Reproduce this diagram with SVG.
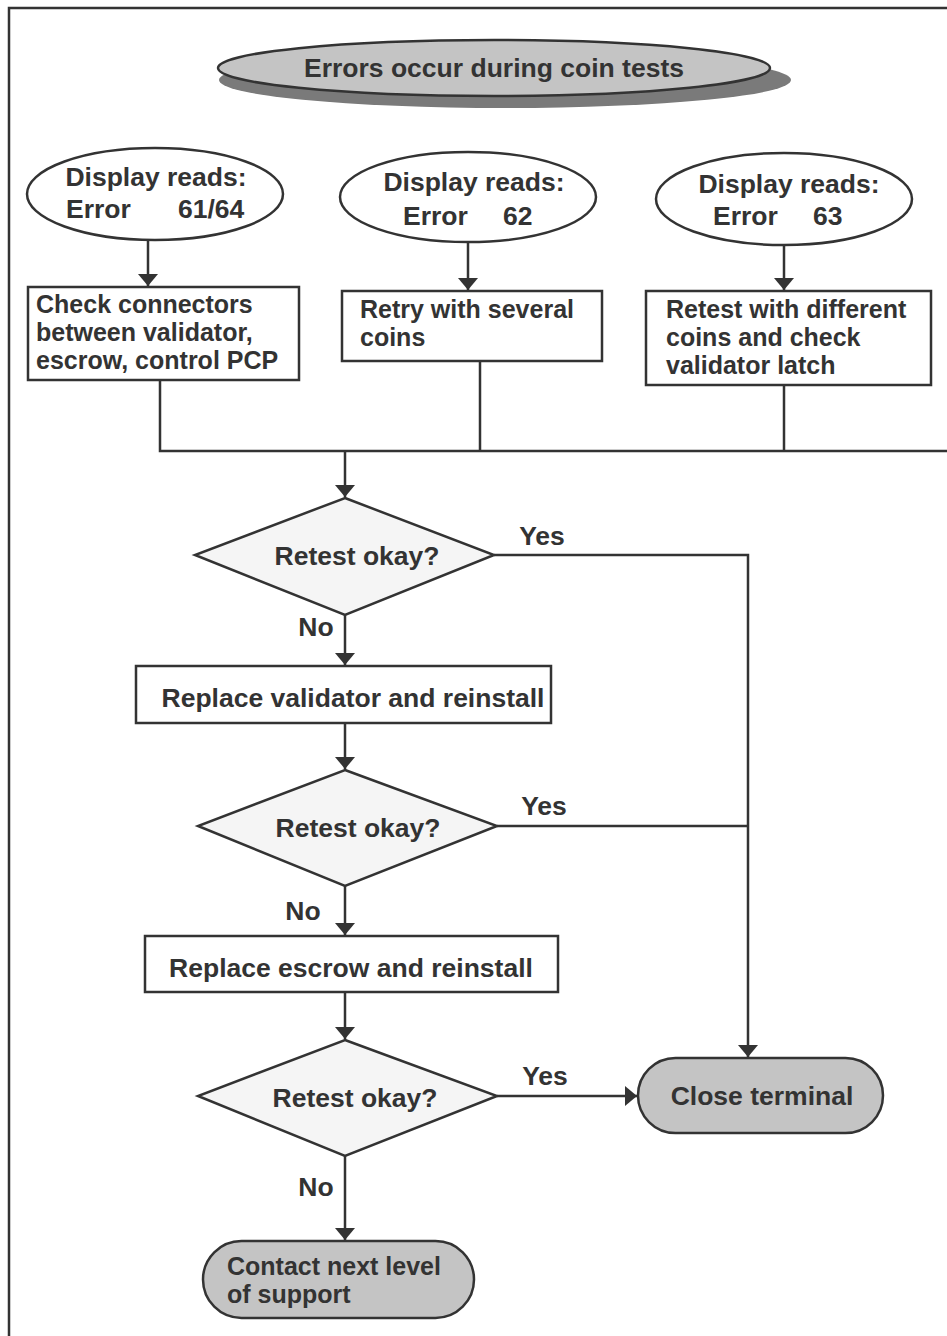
<svg xmlns="http://www.w3.org/2000/svg" width="947" height="1336" viewBox="0 0 947 1336">
<style>
  text { font-family: "Liberation Sans", Arial, sans-serif; font-weight: bold; font-size: 26.5px; fill: #333; }
  .m { font-size: 25px; }
  .c { text-anchor: middle; }
  .ln { stroke: #333; stroke-width: 2.5; fill: none; }
  .box { fill: #fff; stroke: #333; stroke-width: 2.5; }
  .gray { fill: #c4c4c4; stroke: #333; stroke-width: 2.5; }
  .dia { fill: #f5f5f5; stroke: #333; stroke-width: 2.5; }
</style>
<defs>
  <marker id="ah" viewBox="0 0 12 20" refX="12" refY="10" markerWidth="12" markerHeight="20" markerUnits="userSpaceOnUse" orient="auto">
    <path d="M0,0 L12,10 L0,20 z" fill="#333"/>
  </marker>
</defs>
<rect width="947" height="1336" fill="#fff"/>
<path class="ln" d="M9,1336 V8 H947"/>

<g id="connectors">
  <line class="ln" x1="148" y1="240" x2="148" y2="286" marker-end="url(#ah)"/>
  <line class="ln" x1="468" y1="243" x2="468" y2="290" marker-end="url(#ah)"/>
  <line class="ln" x1="784" y1="245" x2="784" y2="290" marker-end="url(#ah)"/>
  <path class="ln" d="M160,380 V451 H947"/>
  <line class="ln" x1="480" y1="361" x2="480" y2="451"/>
  <line class="ln" x1="784" y1="385" x2="784" y2="451"/>
  <line class="ln" x1="345" y1="451" x2="345" y2="497" marker-end="url(#ah)"/>
  <path class="ln" d="M494,555 H748 V1057" marker-end="url(#ah)"/>
  <line class="ln" x1="497" y1="826" x2="748" y2="826"/>
  <line class="ln" x1="345" y1="615" x2="345" y2="665" marker-end="url(#ah)"/>
  <line class="ln" x1="345" y1="723" x2="345" y2="769" marker-end="url(#ah)"/>
  <line class="ln" x1="345" y1="886" x2="345" y2="935" marker-end="url(#ah)"/>
  <line class="ln" x1="345" y1="992" x2="345" y2="1039" marker-end="url(#ah)"/>
  <line class="ln" x1="497" y1="1096" x2="637" y2="1096" marker-end="url(#ah)"/>
  <line class="ln" x1="345" y1="1156" x2="345" y2="1240" marker-end="url(#ah)"/>
  <text x="542" y="545" class="c">Yes</text>
  <text x="316" y="636" class="c">No</text>
  <text x="544" y="815" class="c">Yes</text>
  <text x="303" y="920" class="c">No</text>
  <text x="545" y="1085" class="c">Yes</text>
  <text x="316" y="1196" class="c">No</text>
</g>

<g id="start">
  <ellipse cx="505" cy="80" rx="286" ry="28" fill="#7a7a7a"/>
  <ellipse class="gray" cx="494" cy="68" rx="276" ry="28"/>
  <text x="494" y="77" class="c">Errors occur during coin tests</text>
</g>

<g id="disp1">
  <ellipse class="box" cx="155" cy="194" rx="128" ry="46"/>
  <text x="156" y="186" class="c">Display reads:</text>
  <text x="66" y="218">Error</text>
  <text x="178" y="218">61/64</text>
</g>
<g id="disp2">
  <ellipse class="box" cx="468" cy="197" rx="128" ry="45"/>
  <text x="474" y="191" class="c">Display reads:</text>
  <text x="403" y="225">Error</text>
  <text x="503" y="225">62</text>
</g>
<g id="disp3">
  <ellipse class="box" cx="784" cy="199" rx="128" ry="46"/>
  <text x="789" y="193" class="c">Display reads:</text>
  <text x="713" y="225">Error</text>
  <text x="813" y="225">63</text>
</g>

<g id="box1">
  <rect class="box" x="28" y="287" width="271" height="93"/>
  <text class="m" x="36" y="313">Check connectors</text>
  <text class="m" x="36" y="341">between validator,</text>
  <text class="m" x="36" y="369">escrow, control PCP</text>
</g>
<g id="box2">
  <rect class="box" x="342" y="291" width="260" height="70"/>
  <text class="m" x="360" y="318">Retry with several</text>
  <text class="m" x="360" y="346">coins</text>
</g>
<g id="box3">
  <rect class="box" x="646" y="291" width="285" height="94"/>
  <text class="m" x="666" y="318">Retest with different</text>
  <text class="m" x="666" y="346">coins and check</text>
  <text class="m" x="666" y="374">validator latch</text>
</g>

<g id="dec1">
  <polygon class="dia" points="345,498 494,555 345,615 195,555"/>
  <text x="357" y="565" class="c">Retest okay?</text>
</g>
<g id="repval">
  <rect class="box" x="136" y="666" width="415" height="57"/>
  <text x="353" y="707" class="c">Replace validator and reinstall</text>
</g>
<g id="dec2">
  <polygon class="dia" points="345,770 497,826 345,886 198,826"/>
  <text x="358" y="837" class="c">Retest okay?</text>
</g>
<g id="repesc">
  <rect class="box" x="145" y="936" width="413" height="56"/>
  <text x="351" y="977" class="c">Replace escrow and reinstall</text>
</g>
<g id="dec3">
  <polygon class="dia" points="345,1040 497,1096 345,1156 198,1096"/>
  <text x="355" y="1107" class="c">Retest okay?</text>
</g>
<g id="close">
  <rect class="gray" x="638" y="1058" width="245" height="75" rx="37.5"/>
  <text x="762" y="1105" class="c">Close terminal</text>
</g>
<g id="contact">
  <rect class="gray" x="203" y="1241" width="271" height="77" rx="38.5"/>
  <text class="m" x="227" y="1275">Contact next level</text>
  <text class="m" x="227" y="1303">of support</text>
</g>
</svg>
